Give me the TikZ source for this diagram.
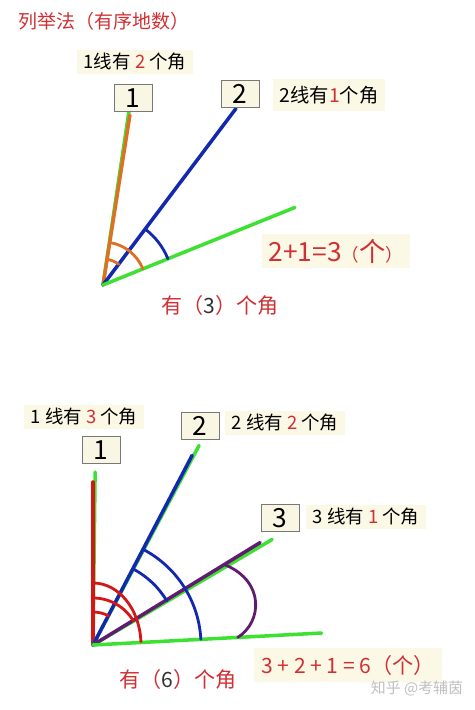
\documentclass[tikz,border=0pt]{standalone}
\usepackage{fontspec}
\setmainfont{Noto Sans CJK SC}
\usetikzlibrary{calc, positioning}
\usepackage{xcolor}
\definecolor{tred}{RGB}{208,48,52}
\definecolor{cream}{RGB}{252,248,230}
\definecolor{boxfill}{RGB}{250,246,228}
\definecolor{boxline}{RGB}{120,120,120}
\definecolor{lgreen}{RGB}{60,225,50}
\definecolor{lblue}{RGB}{18,40,175}
\definecolor{lorange}{RGB}{222,112,38}
\definecolor{lred}{RGB}{212,22,22}
\definecolor{lpurple}{RGB}{96,28,112}
\definecolor{dnum}{RGB}{50,50,50}
\newcommand{\smallparen}[1]{{\fontsize{10}{12}\selectfont #1}}

\begin{document}
\begin{tikzpicture}[x=0.02cm, y=0.02cm, line cap=round,
    numbox/.style={draw=boxline, fill=boxfill, minimum width=0.76cm, minimum height=0.54cm, inner sep=0pt, font=\fontsize{15}{15}\selectfont},
    tag/.style={fill=cream, inner xsep=4pt, inner ysep=2pt, font=\fontsize{10.5}{12}\selectfont},
    ray/.style={line width=2pt},
    anglearc/.style={line width=1.6pt}]
	\useasboundingbox (0,0) rectangle (474,710);
	\node[anchor=west, text=tred, font=\fontsize{10.8}{12}\selectfont] (title) at (12,689) {列举法（有序地数）};

	% first picture: two lines
	\coordinate (A) at (103,425);
	\coordinate (g1) at ($(A)+(81.5:175)$);
	\coordinate (e1) at ($(A)+(81:172)$);
	\coordinate (e2) at ($(A)+(53:221)$);
	\coordinate (e0) at ($(A)+(22:207)$);
	\draw[ray, lgreen] (A) -- (g1);
	\draw[ray, lorange] (A) -- (e1);
	\draw[ray, lblue] (A) -- (e2);
	\draw[ray, lgreen] (A) -- (e0);
	\draw[anglearc, lorange] ($(A)+(81:26)$) arc[start angle=81, end angle=53, radius=26];
	\draw[anglearc, lorange] ($(A)+(81:43)$) arc[start angle=81, end angle=22, radius=43];
	\draw[anglearc, lblue] ($(A)+(53:70)$) arc[start angle=53, end angle=22, radius=70];
	\node[numbox] (t1) at (133,612) {1};
	\node[numbox] (t2) at (240,616) {2};
	\node[tag] (t1lbl) at (135,648) {1线有 \textcolor{tred}{2} 个角};
	\node[tag, inner ysep=4pt, font=\fontsize{11}{12}\selectfont] (t2lbl) at (329,615) {2线有\textcolor{tred}{1}个角};
	\node[tag, text=tred, inner ysep=3pt, font=\fontsize{15}{16}\selectfont] (tsum) at (336,459) {2+1=3\smallparen{（}个\smallparen{）}};
	\node[text=tred, font=\fontsize{12}{14}\selectfont] (tcount) at (220,405) {有（\textcolor{dnum}{3}）个角};

	% second picture: three lines
	\coordinate (B) at (93,65);
	\coordinate (h1) at ($(B)+(89.3:173)$);
	\coordinate (f1) at ($(B)+(90:163)$);
	\coordinate (h2) at ($(B)+(62:226)$);
	\coordinate (f2) at ($(B)+(62.4:214)$);
	\coordinate (h3) at ($(B)+(30.5:208)$);
	\coordinate (f3) at ($(B)+(31.5:196)$);
	\coordinate (f0) at ($(B)+(3:229)$);
	\draw[ray, lgreen] (B) -- (h1);
	\draw[ray, lred] (B) -- (f1);
	\draw[ray, lgreen] (B) -- (h2);
	\draw[ray, lblue] (B) -- (f2);
	\draw[ray, lgreen] (B) -- (h3);
	\draw[ray, lpurple] (B) -- (f3);
	\draw[ray, lgreen] (B) -- (f0);
	\draw[anglearc, lred] ($(B)+(90:33)$) arc[start angle=90, end angle=62, radius=33];
	\draw[anglearc, lred] ($(B)+(90:47)$) arc[start angle=90, end angle=31, radius=47];
	\draw[anglearc, lred] ($(B)+(90:62)$) arc[start angle=90, end angle=3, x radius=48, y radius=62];
	\draw[anglearc, lblue] ($(B)+(62:86)$) arc[start angle=62, end angle=31, radius=86];
	\draw[anglearc, lblue] ($(B)+(62:108)$) arc[start angle=62, end angle=3, radius=108];
	\draw[anglearc, lpurple] ($(B)+(31:155)$) .. controls (265,128) and (262,88) .. ($(B)+(3:145)$);
	\node[numbox] (b1) at (101,260) {1};
	\node[numbox] (b2) at (200,284) {2};
	\node[numbox] (b3) at (280,192) {3};
	\node[tag] (b1lbl) at (84,293) {1 线有 \textcolor{tred}{3} 个角};
	\node[tag] (b2lbl) at (285,287) {2 线有 \textcolor{tred}{2} 个角};
	\node[tag] (b3lbl) at (366,193) {3 线有 \textcolor{tred}{1} 个角};
	\node[tag, text=tred, inner ysep=4pt, font=\fontsize{12}{14}\selectfont] (bsum) at (348,45) {3 + 2 + 1 = 6（个）};
	\node[text=tred, font=\fontsize{12}{14}\selectfont] (bcount) at (178,31) {有（\textcolor{dnum}{6}）个角};
	\node[text=black!25, font=\fontsize{8.5}{10}\selectfont] (wm) at (417,21) {知乎 @考辅茵};
\end{tikzpicture}
\end{document}
